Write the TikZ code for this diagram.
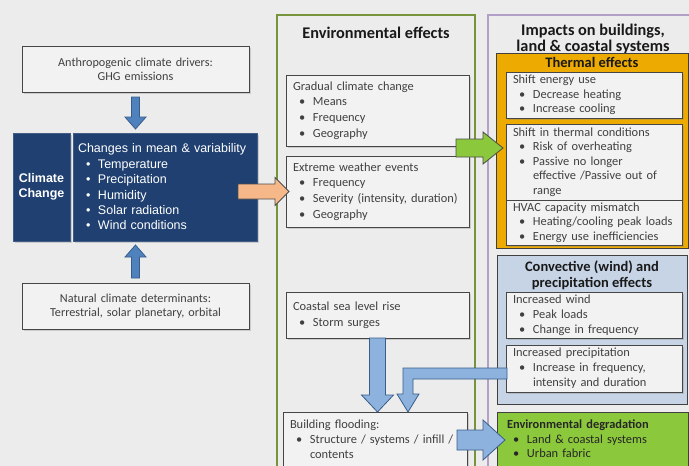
\documentclass[tikz,border=0pt]{standalone}
\usepackage{fontspec}
\setmainfont{Carlito}
\newfontfamily\arialfont{Liberation Sans}
\usetikzlibrary{positioning,calc,shadows}

\definecolor{bggray}{RGB}{236,236,236}
\definecolor{boxfill}{RGB}{242,242,242}
\definecolor{boxline}{RGB}{70,70,70}
\definecolor{txtgray}{RGB}{64,64,64}
\definecolor{navy}{RGB}{31,64,112}
\definecolor{envgreen}{RGB}{119,147,60}
\definecolor{imppurple}{RGB}{178,160,199}
\definecolor{thermgold}{RGB}{237,170,0}
\definecolor{convblue}{RGB}{198,212,230}
\definecolor{degreen}{RGB}{140,200,60}
\definecolor{arrblue}{RGB}{79,129,189}
\definecolor{arrblueline}{RGB}{56,93,138}
\definecolor{lightarr}{RGB}{142,178,222}
\definecolor{peach}{RGB}{246,184,136}

% bullet lines
\newcommand{\bul}[1]{\hspace*{6pt}\makebox[14pt][l]{\textbullet}#1}
\newcommand{\cont}[1]{\hspace*{20pt}#1}
\newcommand{\wbul}[1]{\hspace*{8pt}\makebox[12pt][l]{\textbullet}#1}

% block arrows: style, start, length, shaft half width, head half width, head length
\newcommand{\varrow}[6]{\filldraw[#1, shift={(#2)}] (-#4,0) -- (-#4,{#3-(#6)}) -- (-#5,{#3-(#6)}) -- (0,#3) -- (#5,{#3-(#6)}) -- (#4,{#3-(#6)}) -- (#4,0) -- cycle;}
\newcommand{\harrow}[6]{\filldraw[#1, shift={(#2)}] (0,-#4) -- ({#3-(#6)},-#4) -- ({#3-(#6)},-#5) -- (#3,0) -- ({#3-(#6)},#5) -- ({#3-(#6)},#4) -- (0,#4) -- cycle;}

\begin{document}
\begin{tikzpicture}[x=1pt, y=-1pt,
  every node/.style={inner sep=0pt, outer sep=0pt},
  txtbox/.style={draw=boxline, fill=boxfill, line width=0.9pt, inner xsep=7pt, anchor=north west, align=left, text=txtgray,
    drop shadow={shadow xshift=1.5pt, shadow yshift=-1.5pt, opacity=0.3}},
  envtext/.style={font=\fontsize{12.4}{15.6}\selectfont},
  thermtext/.style={font=\fontsize{12.4}{14.6}\selectfont},
  convtext/.style={font=\fontsize{12.4}{15}\selectfont},
  navybox/.style={fill=navy, draw=navy!85!white, line width=0.6pt, anchor=north west, text=white,
    drop shadow={shadow xshift=1.5pt, shadow yshift=-1.5pt, opacity=0.3}},
  colframe/.style={draw=#1, line width=2pt, anchor=north west},
  groupbox/.style={draw=black!75, fill=#1, line width=0.9pt, anchor=north west},
  coltitle/.style={font=\fontsize{16.3}{16}\selectfont\bfseries, align=center, text=black!90},
  boxtitle/.style={font=\fontsize{14.5}{16}\selectfont\bfseries, align=center, text=black!90},
  smallarr/.style={fill=arrblue, draw=arrblueline, line width=0.8pt},
  bigarr/.style={fill=lightarr, draw=arrblueline, line width=0.8pt},
  orangearr/.style={fill=peach, draw=black!70, line width=0.8pt},
  greenarr/.style={fill=degreen, draw=black!70, line width=0.8pt}]

  \fill[bggray] (0,0) rectangle (689,466);
  \useasboundingbox (0,0) rectangle (689,466);

  % climate change side
  \node[txtbox, align=center, text width=213pt, minimum height=46pt, font=\fontsize{12.2}{14}\selectfont] (anthro) at (22,46)
    {Anthropogenic climate drivers:\\ GHG emissions};
  \node[navybox, minimum width=57pt, minimum height=108pt, align=center,
    font=\arialfont\bfseries\fontsize{12.5}{14.5}\selectfont] (ccl) at (13,133) {Climate\\ Change};
  \node[navybox, inner xsep=5pt, text width=174pt, minimum height=108pt, align=left,
    font=\arialfont\fontsize{12.5}{15.4}\selectfont] (ccr) at (73,133)
    {Changes in mean \& variability\\ \wbul{Temperature}\\ \wbul{Precipitation}\\ \wbul{Humidity}\\ \wbul{Solar radiation}\\ \wbul{Wind conditions}};
  \node[txtbox, align=center, text width=213pt, minimum height=46pt, font=\fontsize{12.2}{14}\selectfont] (natural) at (22,283)
    {Natural climate determinants:\\ Terrestrial, solar planetary, orbital};

  % environmental effects
  \node[colframe=envgreen, minimum width=198pt, minimum height=460pt] (envcol) at (277,15) {};
  \node[coltitle, below=12pt of envcol.north] (envtitle) {Environmental effects};
  \node[txtbox, envtext, text width=169pt, minimum height=71pt] (grad) at (286,75)
    {Gradual climate change\\ \bul{Means}\\ \bul{Frequency}\\ \bul{Geography}};
  \node[txtbox, envtext, text width=169pt, minimum height=71pt] (extr) at (286,156)
    {Extreme weather events\\ \bul{Frequency}\\ \bul{Severity (intensity, duration)}\\ \bul{Geography}};
  \node[txtbox, envtext, text width=169pt, minimum height=46pt] (coast) at (286,292)
    {Coastal sea level rise\\ \bul{Storm surges}};
  \node[txtbox, convtext, text width=170pt, minimum height=54pt] (flood) at (283,412)
    {Building flooding:\\ \bul{Structure / systems / infill /}\\ \cont{contents}};

  % impacts
  \node[colframe=imppurple, minimum width=210pt, minimum height=460pt] (impcol) at (488,15) {};
  \node[coltitle, below=9pt of impcol.north] (imptitle) {Impacts on buildings,\\ land \& coastal systems};

  \node[groupbox=thermgold, minimum width=192pt, minimum height=195pt] (thermal) at (496,53) {};
  \node[boxtitle, below=4pt of thermal.north] (thermtitle) {Thermal effects};
  \node[txtbox, thermtext, text width=162pt, minimum height=46pt] (seu) at (506,72)
    {Shift energy use\\ \bul{Decrease heating}\\ \bul{Increase cooling}};
  \node[txtbox, thermtext, text width=162pt, minimum height=76pt] (stc) at (506,124)
    {Shift in thermal conditions\\ \bul{Risk of overheating}\\ \bul{Passive no longer}\\ \cont{effective /Passive out of}\\ \cont{range}};
  \node[txtbox, thermtext, text width=162pt, minimum height=45pt] (hvac) at (506,200)
    {HVAC capacity mismatch\\ \bul{Heating/cooling peak loads}\\ \bul{Energy use inefficiencies}};

  \node[groupbox=convblue, minimum width=190pt, minimum height=149pt] (conv) at (497,255) {};
  \node[boxtitle, below=6pt of conv.north] (convtitle) {Convective (wind) and\\ precipitation effects};
  \node[txtbox, convtext, text width=162pt, minimum height=46pt] (wind) at (506,292)
    {Increased wind\\ \bul{Peak loads}\\ \bul{Change in frequency}};
  \node[txtbox, convtext, text width=162pt, minimum height=47pt] (prec) at (506,345)
    {Increased precipitation\\ \bul{Increase in frequency,}\\ \cont{intensity and duration}};

  \node[groupbox=degreen, inner xsep=10pt, text width=171pt, minimum height=54pt, align=left,
    font=\fontsize{12.4}{14.5}\selectfont, text=black!85] (envdeg) at (497,412)
    {\textbf{Environmental degradation}\\ \bul{Land \& coastal systems}\\ \bul{Urban fabric}};

  % arrows
  \varrow{smallarr}{$(anthro.south)+(0,5)$}{32}{4}{10.5}{12}
  \varrow{smallarr}{$(natural.north)+(0,-5)$}{-33}{4}{10.5}{-12}
  \harrow{orangearr}{$(extr.west)+(-48,0)$}{51}{7.5}{14}{14}
  \harrow{greenarr}{$(grad.south east)+(-13,2)$}{47}{9}{16}{20}
  \varrow{bigarr}{coast.south}{74}{8}{16}{17}
  \filldraw[bigarr, shift={(prec.west)}] (1,-0.5) -- (-103,-0.5) -- (-103,25.5) -- (-109,25.5) -- (-98,43.5)
    -- (-87,25.5) -- (-93,25.5) -- (-93,10.5) -- (1,10.5) -- cycle;
  \harrow{bigarr}{$(envdeg.west)+(-40,1)$}{48}{10}{20}{22}
\end{tikzpicture}
\end{document}
